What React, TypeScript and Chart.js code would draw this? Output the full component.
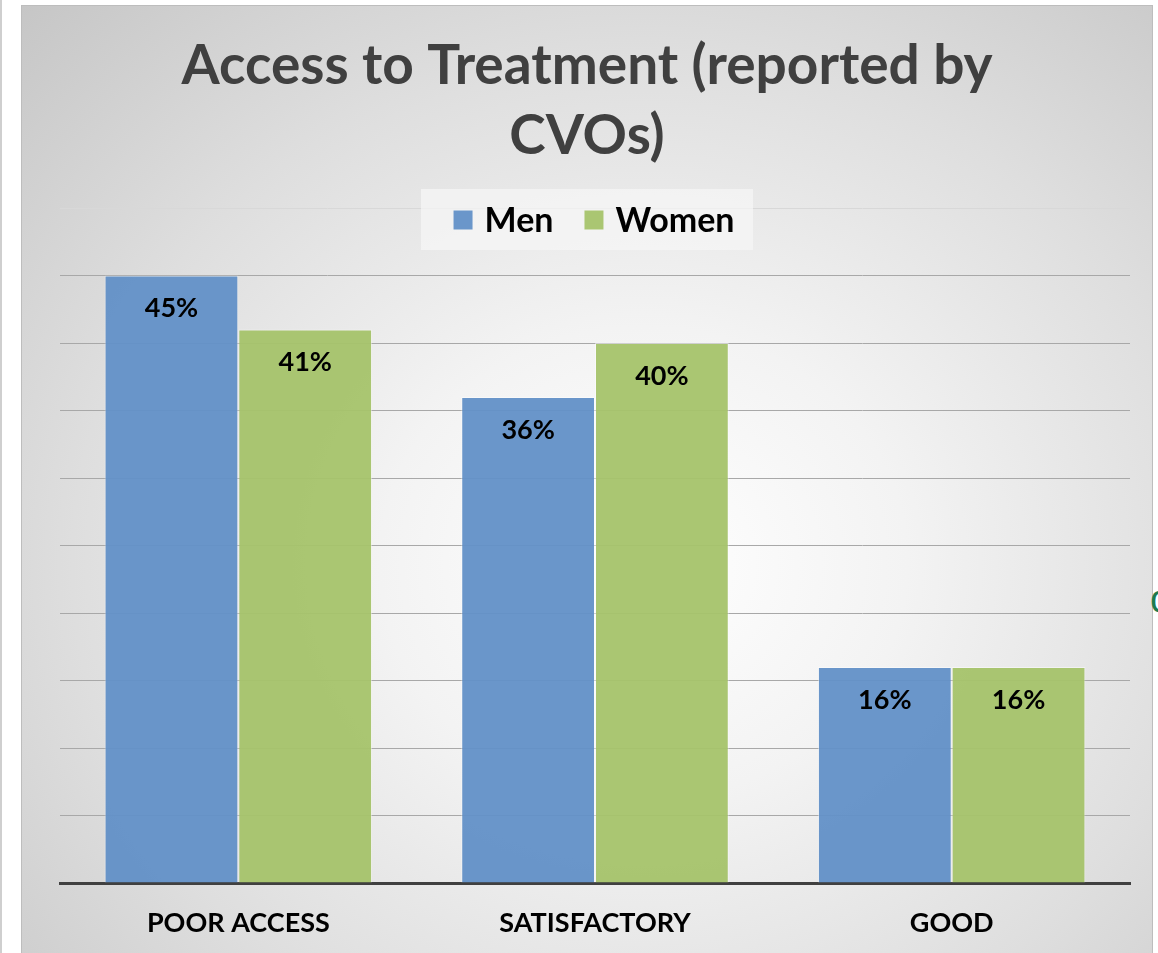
import React, { useEffect, useRef } from "react";
import { Chart, registerables } from "chart.js";

Chart.register(...registerables);

const categories = ["POOR ACCESS", "SATISFACTORY", "GOOD"];
const menValues = [45, 36, 16];
const womenValues = [41, 40, 16];
const titleLines = ["Access to Treatment (reported by", "CVOs)"];
const seriesNames = ["Men", "Women"];
const yMax = 50;
const yStep = 5;

const FONT = "Lato, 'Open Sans', sans-serif";
const BLUE = "rgba(98,144,199,0.95)";
const GREEN = "rgba(165,195,106,0.95)";

const overlayPlugin = {
  id: "overlay",
  afterDatasetsDraw(chart: any) {
    const ctx = chart.ctx;
    ctx.save();
    ctx.fillStyle = "#000";
    ctx.font = `bold 27px ${FONT}`;
    ctx.textAlign = "center";
    ctx.textBaseline = "middle";
    chart.data.datasets.forEach((ds: any, i: number) => {
      const meta = chart.getDatasetMeta(i);
      meta.data.forEach((el: any, j: number) => {
        ctx.fillText(ds.data[j] + "%", el.x, el.y + 33);
      });
    });
    ctx.restore();
  },
  afterDraw(chart: any) {
    const ctx = chart.ctx;
    ctx.save();
    ctx.fillStyle = "#404040";
    ctx.font = `bold 55px ${FONT}`;
    ctx.textAlign = "center";
    ctx.textBaseline = "middle";
    titleLines.forEach((t, i) => ctx.fillText(t, 587, 66 + i * 70));
    ctx.font = `bold 34px ${FONT}`;
    const box = 19;
    const gap = 12;
    const spacing = 31;
    const items = chart.data.datasets.map((ds: any) => ({
      label: ds.label,
      color: ds.backgroundColor,
      w: ctx.measureText(ds.label).width,
    }));
    let total = 0;
    items.forEach((it: any, i: number) => {
      total += box + gap + it.w + (i < items.length - 1 ? spacing : 0);
    });
    ctx.fillStyle = "rgba(246,246,246,0.75)";
    ctx.fillRect(421, 189, 332, 61);
    let x = 594 - total / 2;
    const y = 220;
    items.forEach((it: any) => {
      ctx.fillStyle = it.color;
      ctx.fillRect(x, y - box / 2, box, box);
      x += box + gap;
      ctx.fillStyle = "#000";
      ctx.textAlign = "left";
      ctx.fillText(it.label, x, y + 1);
      x += it.w + spacing;
    });
    ctx.restore();
  },
};

export default function App() {
  const ref = useRef<HTMLCanvasElement>(null);
  useEffect(() => {
    if (!ref.current) return;
    const chart = new Chart(ref.current, {
      type: "bar",
      data: {
        labels: categories,
        datasets: [
          {
            label: seriesNames[0],
            data: menValues,
            backgroundColor: BLUE,
            borderColor: "rgba(255,255,255,0.45)",
            borderWidth: 1,
          },
          {
            label: seriesNames[1],
            data: womenValues,
            backgroundColor: GREEN,
            borderColor: "rgba(255,255,255,0.45)",
            borderWidth: 1,
          },
        ],
      },
      options: {
        responsive: false,
        animation: false,
        layout: { padding: { left: 60, right: 28, top: 208, bottom: 15 } },
        plugins: {
          legend: { display: false },
          title: { display: false },
          tooltip: { enabled: false },
        },
        datasets: { bar: { categoryPercentage: 0.75, barPercentage: 1 } } as any,
        scales: {
          x: {
            grid: { display: false, drawTicks: false },
            border: { display: true, color: "#404040", width: 3 },
            ticks: {
              color: "#000",
              font: { family: FONT, size: 27, weight: "bold" },
              padding: 24,
            },
            afterFit: (scale: any) => {
              scale.height = 55;
            },
          },
          y: {
            min: 0,
            max: yMax,
            ticks: { display: false, stepSize: yStep },
            border: { display: false },
            grid: {
              drawTicks: false,
              lineWidth: 1,
              color: (c: any) => (c.tick && c.tick.value === yMax ? "#d8d8d8" : "#a8a8a8"),
            },
          },
        },
      },
      plugins: [overlayPlugin],
    });
    return () => chart.destroy();
  }, []);

  return (
    <div
      style={{
        position: "absolute",
        left: 0,
        top: 0,
        width: 1158,
        height: 953,
        overflow: "hidden",
        background: "#fff",
      }}
    >
      <div style={{ position: "absolute", left: 0, top: 0, width: 2, height: 953, background: "#cfcfcf" }} />
      <div
        style={{
          position: "absolute",
          left: 21,
          top: 5,
          width: 1130,
          height: 960,
          border: "1px solid #bdbdbd",
          background:
            "radial-gradient(ellipse farthest-corner at 55% 58%, #ffffff 0%, #f3f3f3 30%, #dedede 65%, #c6c6c6 100%)",
        }}
      />
      <span
        style={{
          position: "absolute",
          left: 1151,
          top: 584,
          color: "#1d7a4e",
          font: `bold 28px ${FONT}`,
        }}
      >
        0
      </span>
      <canvas
        ref={ref}
        width={1158}
        height={953}
        style={{ position: "absolute", left: 0, top: 0 }}
      />
    </div>
  );
}
